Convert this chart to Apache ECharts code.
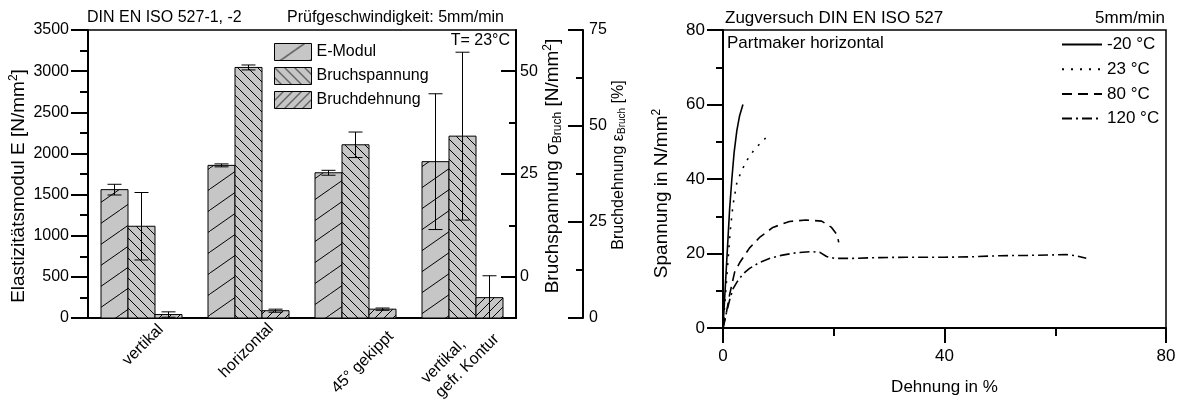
<!DOCTYPE html>
<html><head><meta charset="utf-8">
<script src="https://cdn.jsdelivr.net/npm/echarts@6/dist/echarts.min.js"></script>
<style>html,body{margin:0;padding:0;background:#fff}#c{width:1182px;height:401px}</style>
</head><body><div id="c"></div>
<script>
// ---------- data: left chart ----------
const categories = ['vertikal', 'horizontal', '45° gekippt', 'vertikal,\ngefr. Kontur'];
const eModul = [1560, 1855, 1765, 1900];
const eModulErr = [65, 18, 30, 825];
const bruchspannung = [12.3, 50.9, 32.1, 34.2];
const bruchspannungErr = [8.2, 0.6, 3.1, 20.4];
const bruchdehnung = [0.9, 1.9, 2.3, 5.3];
const bruchdehnungErr = [0.7, 0.4, 0.3, 5.7];
const eTicks = [0, 3500, 500];
const sigmaLabels = [0, 25, 50];
const sigmaMinor = [12.5, 37.5];
const epsTicks = [0, 75, 25];

// ---------- data: right chart (strain %, stress N/mm²) ----------
const curveNames = ['-20 °C', '23 °C', '80 °C', '120 °C'];
const curveM20 = [[0,0],[0.3,8],[0.6,16],[0.9,24],[1.2,32],[1.6,40],[2.0,47],[2.5,53],[3.0,57],[3.6,60]];
const curve23 = [[0,0],[0.4,8],[0.9,18],[1.3,26],[1.8,33],[2.5,39],[3.3,42],[4.3,45],[5.7,48],[7.7,51]];
const curve80 = [[0,0],[0.6,4],[1.2,9],[2.1,15],[3.0,17.5],[4.8,21.5],[6.6,24.3],[9,27],[12,28.6],[15,29],[17.8,28.7],[19.6,27],[20.6,25],[20.9,23]];
const curve120 = [[0,0],[0.6,4],[1.2,7.5],[1.8,10.5],[2.6,12.5],[3.6,14.5],[4.8,16],[6.6,17.6],[8.5,18.7],[10.5,19.5],[13.2,20.2],[16,20.5],[17.5,20.3],[18.7,19.2],[20.2,18.7],[23.5,18.7],[28.3,18.9],[33,19],[40,19],[44.5,19.1],[50,19.4],[55,19.5],[59,19.6],[62,19.7],[63.8,19.4],[65.6,18.7]];
const curves = [curveM20, curve23, curve80, curve120];
const curveDash = ['solid', [2, 7], [10, 6], [10, 4, 2, 4]];
const strainTicks = [0, 80, 40];
const strainMinor = [20, 60];
const stressTicks = [0, 80, 20];

// ---------- styling helpers ----------
const FONT = 'Liberation Sans, Arial, sans-serif';
const BLACK = '#000';
const GRAY = '#c6c6c6';
function hatch(w, h, dir, lw) {
  const c = document.createElement('canvas'); c.width = w; c.height = h;
  const g = c.getContext('2d');
  g.fillStyle = GRAY; g.fillRect(0, 0, w, h);
  g.strokeStyle = BLACK; g.lineWidth = lw;
  g.beginPath();
  for (const k of [-1, 0, 1]) {
    if (dir > 0) { g.moveTo(k * w, h); g.lineTo(k * w + w, 0); }
    else { g.moveTo(k * w, 0); g.lineTo(k * w + w, h); }
  }
  g.stroke();
  return { image: c, repeat: 'repeat' };
}
const patE = hatch(30, 21, 1, 1);
const patS = hatch(10, 10, -1, 1);
const patD = hatch(9, 9, 1, 1);
const BAR_FRAC = 27 / 107;

function barSeries(name, values, yIdx, k, pat) {
  return {
    name, type: 'custom', xAxisIndex: 0, yAxisIndex: yIdx, z: 2,
    itemStyle: { color: pat },
    data: values.map((v, i) => [i, v]),
    renderItem: (params, api) => {
      const i = api.value(0), v = api.value(1);
      const p = api.coord([i, v]);
      const bw = api.size([1, 0])[0] * BAR_FRAC;
      const x0 = p[0] - 1.5 * bw + k * bw;
      const yb = params.coordSys.y + params.coordSys.height;
      return { type: 'rect', shape: { x: x0, y: p[1], width: bw, height: yb - p[1] },
        style: { fill: pat, stroke: BLACK, lineWidth: 1 } };
    }
  };
}
function errSeries(values, errs, yIdx, k) {
  return {
    type: 'custom', xAxisIndex: 0, yAxisIndex: yIdx, z: 3, clip: true,
    data: values.map((v, i) => [i, v, errs[i]]),
    renderItem: (params, api) => {
      const i = api.value(0), v = api.value(1), e = api.value(2);
      const bw = api.size([1, 0])[0] * BAR_FRAC;
      const cx = api.coord([i, v])[0] - 1.5 * bw + (k + 0.5) * bw;
      const yt = api.coord([i, v + e])[1], yb = api.coord([i, v - e])[1];
      const cap = 7, st = { stroke: BLACK, lineWidth: 1 };
      return { type: 'group', children: [
        { type: 'line', shape: { x1: cx, y1: yt, x2: cx, y2: yb }, style: st },
        { type: 'line', shape: { x1: cx - cap, y1: yt, x2: cx + cap, y2: yt }, style: st },
        { type: 'line', shape: { x1: cx - cap, y1: yb, x2: cx + cap, y2: yb }, style: st }
      ] };
    }
  };
}
const line2 = { color: BLACK, width: 2 };
function richFor(fs) {
  const s = Math.round(fs * 0.62);
  return {
    sub: { fontSize: s, padding: [Math.round(fs * 0.5), 0, 0, 0], fontFamily: FONT },
    sup: { fontSize: s, padding: [0, 0, Math.round(fs * 0.5), 0], fontFamily: FONT }
  };
}

const chart = echarts.init(document.getElementById('c'), null, { renderer: 'canvas' });
const option = {
  animation: false,
  backgroundColor: '#fff',
  textStyle: { fontFamily: FONT, color: BLACK },
  title: [
    { text: 'DIN EN ISO 527-1, -2', left: 87, top: 10, padding: 0, textStyle: { fontSize: 16, fontWeight: 'normal', color: BLACK, fontFamily: FONT } },
    { text: 'Prüfgeschwindigkeit: 5mm/min', left: 287, top: 10, padding: 0, textStyle: { fontSize: 16, fontWeight: 'normal', color: BLACK, fontFamily: FONT } },
    { text: 'Zugversuch DIN EN ISO 527', left: 725, top: 10, padding: 0, textStyle: { fontSize: 17, fontWeight: 'normal', color: BLACK, fontFamily: FONT } },
    { text: '5mm/min', right: 17, top: 10, padding: 0, textStyle: { fontSize: 17, fontWeight: 'normal', color: BLACK, fontFamily: FONT } },
    { text: 'Partmaker horizontal', left: 727, top: 35, padding: 0, textStyle: { fontSize: 17, fontWeight: 'normal', color: BLACK, fontFamily: FONT } }
  ],
  legend: [
    { data: [
        { name: 'E-Modul', icon: 'rect', itemStyle: { color: patE, borderColor: BLACK, borderWidth: 1 } },
        { name: 'Bruchspannung', icon: 'rect', itemStyle: { color: patS, borderColor: BLACK, borderWidth: 1 } },
        { name: 'Bruchdehnung', icon: 'rect', itemStyle: { color: patD, borderColor: BLACK, borderWidth: 1 } }
      ],
      orient: 'vertical', left: 274, top: 43, padding: 0, itemWidth: 37, itemHeight: 17, itemGap: 6,
      selectedMode: false, textStyle: { fontSize: 16, color: BLACK, fontFamily: FONT } },
    { data: curveNames, orient: 'vertical', left: 1061, top: 36, padding: 0, itemWidth: 40, itemHeight: 14, itemGap: 7.7,
      selectedMode: false, textStyle: { fontSize: 17, color: BLACK, fontFamily: FONT },
      itemStyle: { color: 'rgba(0,0,0,0)', borderColor: 'rgba(0,0,0,0)', borderWidth: 0, opacity: 0 } }
  ],
  grid: [
    { left: 88, top: 30, width: 428, height: 288, show: true, borderColor: BLACK, borderWidth: 1.5 },
    { left: 723, top: 30, width: 443, height: 299, show: true, borderColor: BLACK, borderWidth: 1.5 }
  ],
  xAxis: [
    { gridIndex: 0, type: 'category', data: categories, axisTick: { show: false }, axisLabel: { show: false },
      axisLine: { onZero: false, lineStyle: line2 } },
    { gridIndex: 1, type: 'value', position: 'bottom', min: strainTicks[0], max: strainTicks[1], interval: strainTicks[2],
      axisLine: { onZero: false, lineStyle: line2 },
      axisTick: { length: 15, lineStyle: line2 },
      splitLine: { show: false },
      axisLabel: { margin: 20, fontSize: 17, color: BLACK },
      name: 'Dehnung in %', nameLocation: 'middle', nameGap: 51, nameTextStyle: { fontSize: 17, color: BLACK } },
    { gridIndex: 1, type: 'value', position: 'bottom', min: strainTicks[0], max: strainTicks[1],
      axisLine: { show: false, onZero: false },
      axisTick: { show: true, inside: false, length: 8, lineStyle: line2, customValues: strainMinor },
      axisLabel: { show: false }, splitLine: { show: false } }
  ],
  yAxis: [
    { gridIndex: 0, type: 'value', position: 'left', min: eTicks[0], max: eTicks[1], interval: eTicks[2],
      axisLine: { show: true, onZero: false, lineStyle: line2 },
      axisTick: { show: true, length: 17, lineStyle: line2 },
      minorTick: { show: true, splitNumber: 2, length: 8, lineStyle: line2 },
      splitLine: { show: false },
      axisLabel: { margin: 19, fontSize: 16, color: BLACK, formatter: v => String(v) },
      name: 'Elastizitätsmodul E [N/mm{sup|2}]', nameLocation: 'middle', nameGap: 58,
      nameTextStyle: { fontSize: 19, color: BLACK, rich: richFor(19), padding: [0, 24, 0, 0] } },
    { gridIndex: 0, type: 'value', position: 'right', offset: 0, min: -10, max: 60,
      axisLine: { show: true, onZero: false, lineStyle: line2 },
      axisTick: { show: true, inside: true, length: 15, lineStyle: line2, customValues: sigmaLabels },
      splitLine: { show: false },
      axisLabel: { margin: 4, fontSize: 16, color: BLACK, customValues: sigmaLabels },
      name: 'Bruchspannung σ{sub|Bruch} [N/mm{sup|2}]', nameLocation: 'middle', nameGap: 26,
      nameTextStyle: { fontSize: 19, color: BLACK, rich: richFor(19), padding: [0, 0, 0, 16] } },
    { gridIndex: 0, type: 'value', position: 'right', offset: 67, min: epsTicks[0], max: epsTicks[1], interval: epsTicks[2],
      axisLine: { show: true, onZero: false, lineStyle: line2 },
      axisTick: { show: true, inside: true, length: 15, lineStyle: line2 },
      minorTick: { show: true, splitNumber: 2, length: 7, lineStyle: line2 },
      splitLine: { show: false },
      axisLabel: { margin: 6, fontSize: 16, color: BLACK },
      name: 'Bruchdehnung ε{sub|Bruch} [%]', nameLocation: 'middle', nameGap: 24,
      nameTextStyle: { fontSize: 16, color: BLACK, rich: richFor(16), padding: [0, 0, 0, 18] } },
    { gridIndex: 0, type: 'value', position: 'right', offset: 0, min: -10, max: 60,
      axisLine: { show: false },
      axisTick: { show: true, inside: true, length: 7, lineStyle: line2, customValues: sigmaMinor },
      axisLabel: { show: false }, splitLine: { show: false } },
    { gridIndex: 1, type: 'value', min: stressTicks[0], max: stressTicks[1], interval: stressTicks[2],
      axisLine: { show: true, onZero: false, lineStyle: line2 },
      axisTick: { show: true, length: 16, lineStyle: line2 },
      minorTick: { show: true, splitNumber: 2, length: 7, lineStyle: line2 },
      splitLine: { show: false },
      axisLabel: { margin: 18, fontSize: 17, color: BLACK },
      name: 'Spannung in N/mm{sup|2}', nameLocation: 'middle', nameGap: 50,
      nameTextStyle: { fontSize: 19, color: BLACK, rich: richFor(19), padding: [0, 29, 0, 0] } }
  ],
  series: [
    barSeries('E-Modul', eModul, 0, 0, patE),
    barSeries('Bruchspannung', bruchspannung, 1, 1, patS),
    barSeries('Bruchdehnung', bruchdehnung, 2, 2, patD),
    errSeries(eModul, eModulErr, 0, 0),
    errSeries(bruchspannung, bruchspannungErr, 1, 1),
    errSeries(bruchdehnung, bruchdehnungErr, 2, 2)
  ].concat(curves.map((d, i) => ({
    name: curveNames[i], type: 'line', xAxisIndex: 1, yAxisIndex: 4, data: d,
    symbol: 'none', showSymbol: false, smooth: false,
    lineStyle: { color: BLACK, width: 1.6, type: curveDash[i] }, itemStyle: { color: BLACK }
  })))
};
chart.setOption(option);

// category labels (rotated) placed from the category axis scale
const labelPlace = [
  { dx: 19.5, y: 327, align: 'right' },
  { dx: 22.5, y: 326, align: 'right' },
  { dx: 35.5, y: 334, align: 'right' },
  { dx: -31.5, y: 388, align: 'left' }
];
const graphics = categories.map((c, i) => {
  const cx = chart.convertToPixel({ xAxisIndex: 0 }, i);
  const p = labelPlace[i];
  return { type: 'text', x: cx + p.dx, y: p.y, rotation: Math.PI / 4,
    style: { text: c, fontSize: 16, fontFamily: FONT, fill: BLACK, align: p.align, textAlign: p.align,
      verticalAlign: 'middle', textVerticalAlign: 'middle', lineHeight: 20 } };
});
graphics.push({ type: 'text', x: 510, y: 33,
  style: { text: 'T= 23°C', fontSize: 16, fontFamily: FONT, fill: BLACK, align: 'right', textAlign: 'right',
    verticalAlign: 'top', textVerticalAlign: 'top' } });
chart.setOption({ graphic: graphics });
</script>
</body></html>
